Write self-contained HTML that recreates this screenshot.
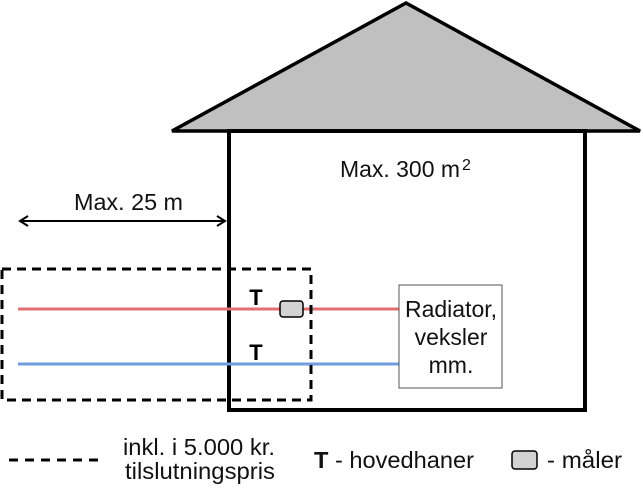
<!DOCTYPE html>
<html><head><meta charset="utf-8"><style>
html,body{margin:0;padding:0;background:#fff;}
svg{display:block;font-family:"Liberation Sans",Arial,sans-serif;}
</style></head><body>
<svg width="643" height="490" viewBox="0 0 643 490" xmlns="http://www.w3.org/2000/svg">
<polygon points="406,3 172,131 640,131" fill="#c0c0c0" stroke="#000" stroke-width="3.5" stroke-linejoin="miter"/>
<rect x="229" y="131" width="356" height="279" fill="none" stroke="#000" stroke-width="4"/>
<text x="340" y="177" font-size="23" fill="#111" textLength="120" lengthAdjust="spacingAndGlyphs">Max. 300 m</text>
<text x="462" y="170" font-size="16" fill="#111">2</text>
<line x1="22" y1="221" x2="224" y2="221" stroke="#000" stroke-width="2"/>
<polyline points="28,216 20,221 28,226" fill="none" stroke="#000" stroke-width="2"/>
<polyline points="217,216 225,221 217,226" fill="none" stroke="#000" stroke-width="2"/>
<text x="74" y="210" font-size="23" fill="#111" textLength="109" lengthAdjust="spacingAndGlyphs">Max. 25 m</text>
<line x1="18" y1="309" x2="400" y2="309" stroke="#e07070" stroke-width="3"/>
<line x1="18" y1="364" x2="400" y2="364" stroke="#6f9de0" stroke-width="3"/>
<rect x="2" y="269" width="309" height="131" fill="none" stroke="#000" stroke-width="3" stroke-dasharray="9,6"/>
<rect x="280" y="301" width="23" height="16" rx="3" fill="#d3d3d3" stroke="#000" stroke-width="1.5"/>
<text x="256" y="305" font-size="22" font-weight="bold" text-anchor="middle">T</text>
<text x="256" y="360" font-size="22" font-weight="bold" text-anchor="middle">T</text>
<rect x="399" y="285" width="103" height="103" fill="#fff" stroke="#555" stroke-width="1"/>
<text x="451" y="317" font-size="23" text-anchor="middle" fill="#111">Radiator,</text>
<text x="451" y="345" font-size="23" text-anchor="middle" fill="#111">veksler</text>
<text x="451" y="373" font-size="23" text-anchor="middle" fill="#111">mm.</text>
<line x1="9" y1="460" x2="98" y2="460" stroke="#000" stroke-width="3" stroke-dasharray="9,7"/>
<text x="123" y="455" font-size="23" fill="#111" textLength="152" lengthAdjust="spacingAndGlyphs">inkl. i 5.000 kr.</text>
<text x="125" y="479" font-size="23" fill="#111" textLength="150" lengthAdjust="spacingAndGlyphs">tilslutningspris</text>
<text x="314" y="468" font-size="23" fill="#111" textLength="160" lengthAdjust="spacingAndGlyphs"><tspan font-weight="bold">T</tspan> - hovedhaner</text>
<rect x="512" y="451" width="25" height="18" rx="3" fill="#d3d3d3" stroke="#000" stroke-width="1.5"/>
<text x="547" y="468" font-size="23" fill="#111" textLength="75" lengthAdjust="spacingAndGlyphs">- måler</text>
</svg>
</body></html>
